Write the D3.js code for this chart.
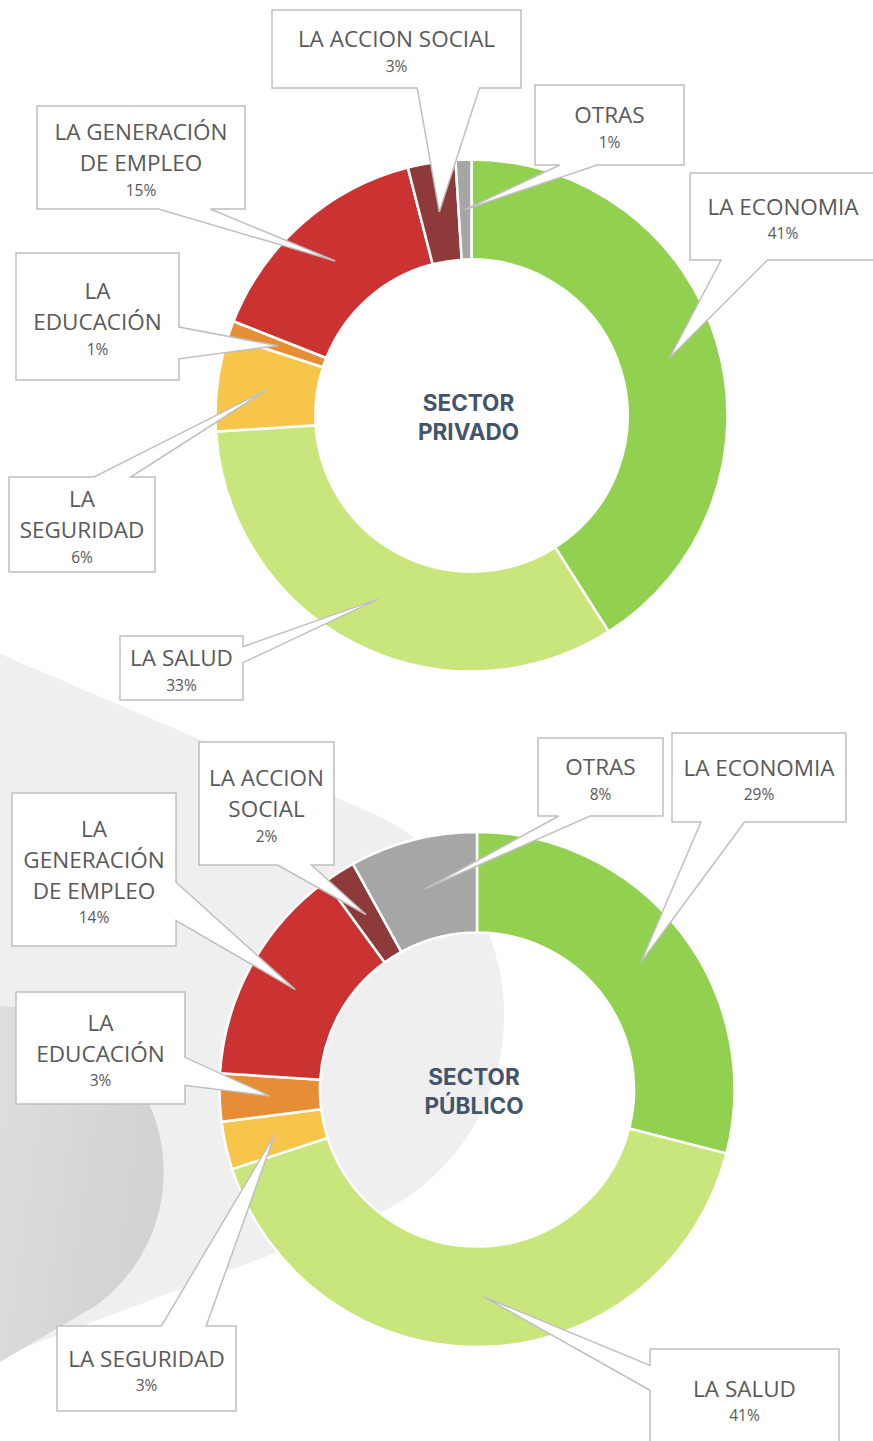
<!DOCTYPE html>
<html>
<head>
<meta charset="utf-8">
<script src="https://cdn.jsdelivr.net/npm/d3@7"></script>
<style>
  body { margin: 0; background: #fff; }
  svg { display: block; }
</style>
</head>
<body>
<div id="chart"></div>
<script>
const categories = [
  "LA ECONOMIA", "LA SALUD", "LA SEGURIDAD", "LA EDUCACIÓN",
  "LA GENERACIÓN DE EMPLEO", "LA ACCION SOCIAL", "OTRAS"
];
const sliceColors = ["#92D050", "#C9E67D", "#F8C54B", "#E68E35", "#CB3232", "#8E3A3A", "#A6A6A6"];

const privadoValues = [41, 33, 6, 1, 15, 3, 1];
const publicoValues = [29, 41, 3, 3, 14, 2, 8];

// how each category label wraps inside its callout
const privadoLines = [
  ["LA ECONOMIA"], ["LA SALUD"], ["LA", "SEGURIDAD"], ["LA", "EDUCACIÓN"],
  ["LA GENERACIÓN", "DE EMPLEO"], ["LA ACCION SOCIAL"], ["OTRAS"]
];
const publicoLines = [
  ["LA ECONOMIA"], ["LA SALUD"], ["LA SEGURIDAD"], ["LA", "EDUCACIÓN"],
  ["LA", "GENERACIÓN", "DE EMPLEO"], ["LA ACCION", "SOCIAL"], ["OTRAS"]
];

// callout boxes [x0, y0, x1, y1], same order as categories
const privadoBoxes = [
  [690, 173, 876, 260], [120, 636, 243, 700], [9, 477, 155, 572], [16, 253, 179, 380],
  [37, 106, 245, 209], [272, 10, 521, 88], [535, 85, 684, 165]
];
const publicoBoxes = [
  [672, 733, 846, 822], [650, 1349, 839, 1448], [57, 1326, 236, 1411], [16, 992, 185, 1104],
  [12, 793, 176, 946], [199, 742, 334, 865], [538, 738, 663, 816]
];

const width = 873;
const height = 1441;

const svg = d3.select("#chart")
  .append("svg")
  .attr("width", width)
  .attr("height", height);

// background decoration
const defs = svg.append("defs");
const grad = defs.append("linearGradient")
  .attr("id", "darkBlob")
  .attr("x1", "0").attr("y1", "0").attr("x2", "1").attr("y2", "0.3");
grad.append("stop").attr("offset", "0").attr("stop-color", "#DEDEDE");
grad.append("stop").attr("offset", "1").attr("stop-color", "#D2D2D2");

svg.append("path")
  .attr("d", "M0,654 L367,811 A220,220 0 0,1 366,1219 L0,1357 Z")
  .attr("fill", "#EFEFEF");

svg.append("path")
  .attr("d", "M0,1006 A166,166 0 0,1 97,1305 L0,1362 Z")
  .attr("fill", "url(#darkBlob)");

function calloutPath([x0, y0, x1, y1], [tx, ty]) {
  // rectangle with a wedge pointer, wedge base placed like a spreadsheet callout
  const w = x1 - x0, h = y1 - y0;
  const dx = tx - (x0 + x1) / 2, dy = ty - (y0 + y1) / 2;
  const dq = dx * h / w;
  if (Math.abs(dy) > Math.abs(dq)) {
    const a = x0 + w * (dx > 0 ? 7 : 2) / 12;
    const b = x0 + w * (dx > 0 ? 10 : 5) / 12;
    if (dy > 0) return `M${x0},${y0}H${x1}V${y1}H${b}L${tx},${ty}L${a},${y1}H${x0}Z`;
    return `M${x0},${y0}H${a}L${tx},${ty}L${b},${y0}H${x1}V${y1}H${x0}Z`;
  }
  const a = y0 + h * (dy > 0 ? 7 : 2) / 12;
  const b = y0 + h * (dy > 0 ? 10 : 5) / 12;
  if (dx > 0) return `M${x0},${y0}H${x1}V${a}L${tx},${ty}L${x1},${b}V${y1}H${x0}Z`;
  return `M${x0},${y0}H${x1}V${y1}H${x0}V${b}L${tx},${ty}L${x0},${a}Z`;
}

function drawDonut({ cx, cy, radius, values, lines, boxes, title }) {
  const data = categories.map((c, i) => ({
    name: c, value: values[i], color: sliceColors[i], lines: lines[i], box: boxes[i]
  }));

  const pie = d3.pie().sort(null).value((d) => d.value);
  const arc = d3.arc().innerRadius(radius * 0.61).outerRadius(radius);
  const arcs = pie(data);

  const g = svg.append("g").attr("transform", `translate(${cx},${cy})`);

  g.selectAll("path")
    .data(arcs)
    .join("path")
    .attr("d", arc)
    .attr("fill", (d) => d.data.color)
    .attr("stroke", "#fff")
    .attr("stroke-width", 2.5);

  // centre title
  g.append("text")
    .attr("text-anchor", "middle")
    .attr("fill", "#44546A")
    .style("font", "700 22.5px Inter, 'Open Sans', sans-serif")
    .selectAll("tspan")
    .data(title)
    .join("tspan")
    .attr("x", -3)
    .attr("y", (d, i) => -12.5 + i * 28.5)
    .attr("dy", "0.36em")
    .text((d) => d);

  // callouts
  const labels = svg.append("g");
  arcs.forEach((d) => {
    const [ux, uy] = arc.centroid(d);
    const tip = [cx + ux, cy + uy];
    const [x0, y0, x1, y1] = d.data.box;
    const bx = (x0 + x1) / 2;
    const by = (y0 + y1) / 2;

    labels.append("path")
      .attr("d", calloutPath(d.data.box, tip))
      .attr("fill", "#fff")
      .attr("stroke", "#BFBFBF")
      .attr("stroke-width", 1.5)
      .attr("stroke-linejoin", "miter");

    const n = d.data.lines.length;
    const blockH = (n - 1) * 31 + 27;
    const top = by - blockH / 2 + 3.5;

    const t = labels.append("text")
      .attr("text-anchor", "middle")
      .attr("fill", "#595959")
      .style("font-family", "'Open Sans', sans-serif");

    d.data.lines.forEach((line, i) => {
      t.append("tspan")
        .attr("x", bx)
        .attr("y", top + i * 31)
        .attr("dy", "0.36em")
        .style("font-size", "22.5px")
        .text(line);
    });
    t.append("tspan")
      .attr("x", bx)
      .attr("y", top + (n - 1) * 31 + 27)
      .attr("dy", "0.36em")
      .style("font-size", "15.5px")
      .text(`${d.data.value}%`);
  });
}

drawDonut({
  cx: 471.5, cy: 415.5, radius: 256,
  values: privadoValues, lines: privadoLines, boxes: privadoBoxes,
  title: ["SECTOR", "PRIVADO"]
});

drawDonut({
  cx: 477, cy: 1089.5, radius: 257.5,
  values: publicoValues, lines: publicoLines, boxes: publicoBoxes,
  title: ["SECTOR", "PÚBLICO"]
});
</script>
</body>
</html>
